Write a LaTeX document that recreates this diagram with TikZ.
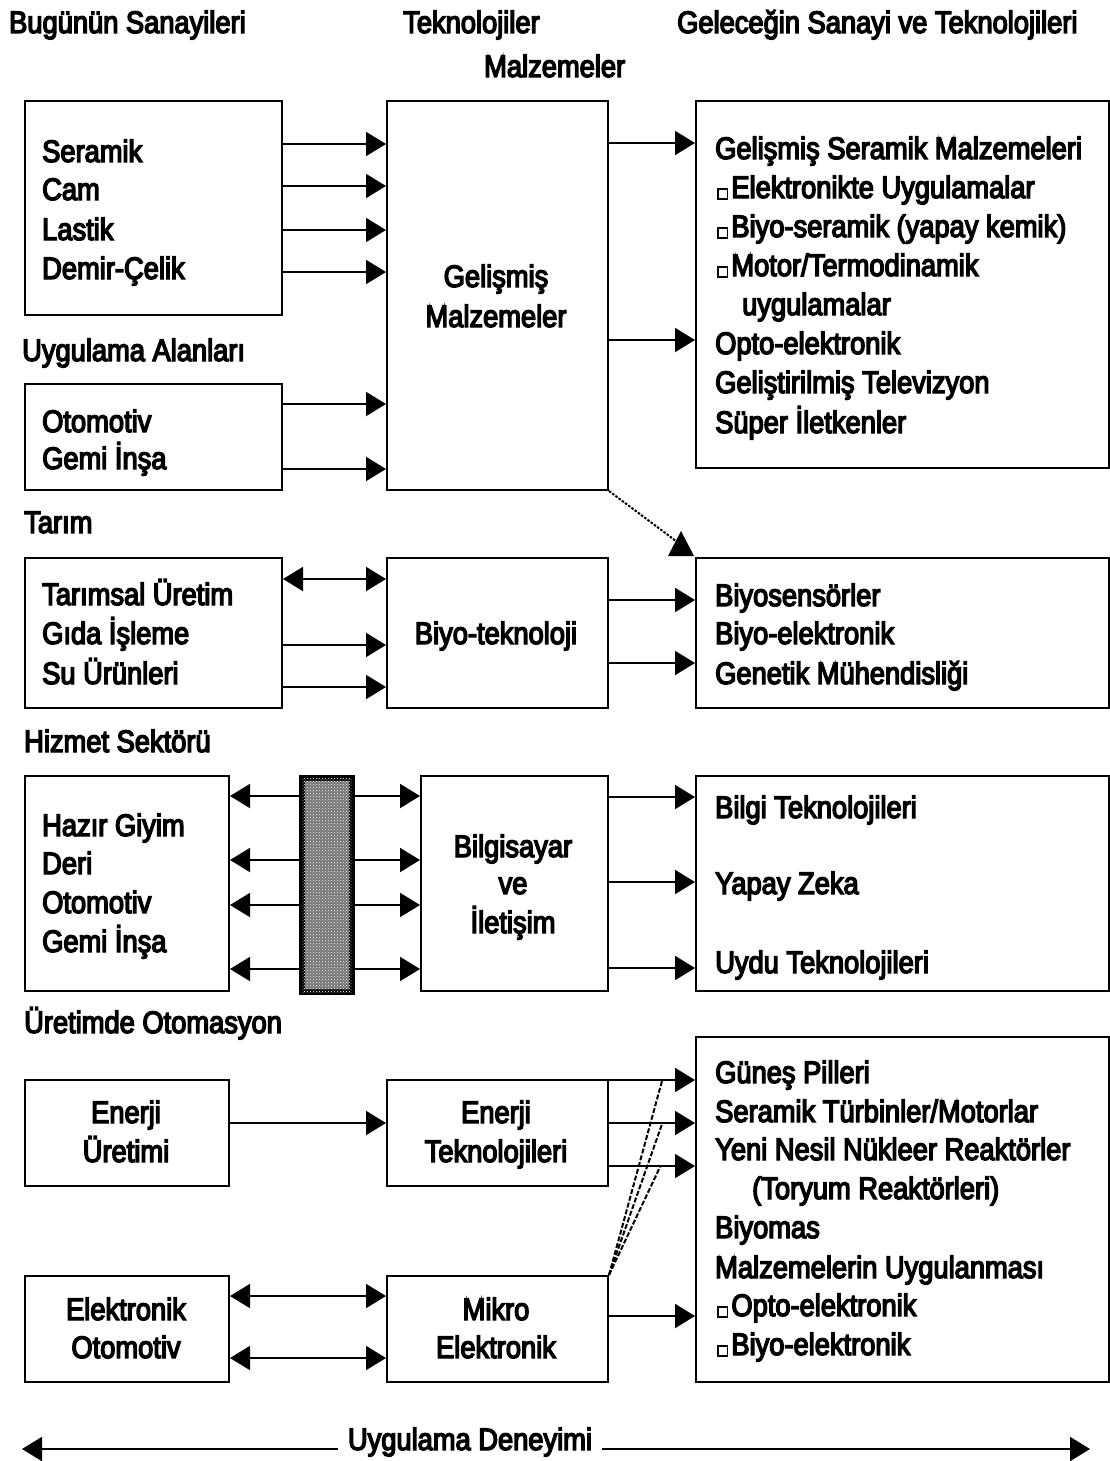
\documentclass[tikz,border=0pt]{standalone}
\usepackage{fontspec}
\setmainfont{Liberation Sans}[FakeStretch=0.88,FakeBold=4.5]
\usetikzlibrary{arrows.meta,patterns,calc}
\newcommand\dfont{\fontsize{31}{31}\selectfont}
\newcommand\bsq{{\setlength\fboxrule{1.6pt}\setlength\fboxsep{0pt}\fbox{\rule{0pt}{8pt}\rule{8pt}{0pt}}}\hspace{3pt}}
\tikzset{
  box/.style={draw, line width=2pt, inner sep=0pt, anchor=north west},
  txt/.style={anchor=base west, inner sep=0pt, font=\dfont},
  ctxt/.style={anchor=base, inner sep=0pt, font=\dfont},
  arr/.style={line width=2pt, -{Triangle[length=20pt,width=24pt]}},
  darr/.style={line width=2pt, {Triangle[length=20pt,width=24pt]}-{Triangle[length=20pt,width=24pt]}},
  dsh/.style={line width=2pt, dash pattern=on 5pt off 2pt},
  dot/.style={line width=2pt, dash pattern=on 2.5pt off 1.5pt},
}
\begin{document}
\begin{tikzpicture}[x=1pt,y=-1pt]
\useasboundingbox (0,0) rectangle (1110,1461);
\fill[white] (0,0) rectangle (1110,1461);

% headers
\node[txt] (h1) at (9,33) {Bugünün Sanayileri};
\node[txt] (h2) at (403,33) {Teknolojiler};
\node[txt] (h3) at (484,77) {Malzemeler};
\node[txt] (h4) at (677,33) {Geleceğin Sanayi ve Teknolojileri};

% boxes
\node[box, minimum width=257, minimum height=214] (sanayi) at (24,100) {};
\node[box, minimum width=221, minimum height=389] (gelismis) at (386,100) {};
\node[box, minimum width=413, minimum height=367] (gelecek) at (695,100) {};
\node[box, minimum width=257, minimum height=106] (uygulama) at (24,383) {};
\node[box, minimum width=257, minimum height=150] (tarim) at (24,557) {};
\node[box, minimum width=221, minimum height=150] (biyotek) at (386,557) {};
\node[box, minimum width=413, minimum height=150] (biyosens) at (695,557) {};
\node[box, minimum width=204, minimum height=215] (hizmet) at (24,775) {};
\node[box, minimum width=187, minimum height=215] (bilgisayar) at (420,775) {};
\node[box, minimum width=413, minimum height=215] (bilgi) at (695,775) {};
\node[box, minimum width=204, minimum height=106] (enerjiu) at (24,1079) {};
\node[box, minimum width=221, minimum height=106] (enerjit) at (386,1079) {};
\node[box, minimum width=413, minimum height=345] (gunes) at (695,1036) {};
\node[box, minimum width=204, minimum height=106] (elektronik) at (24,1275) {};
\node[box, minimum width=221, minimum height=106] (mikro) at (386,1275) {};

% section labels
\node[txt] (l1) at (22,361) {Uygulama Alanları};
\node[txt] (l2) at (24,533) {Tarım};
\node[txt] (l3) at (24,752) {Hizmet Sektörü};
\node[txt] (l4) at (24,1033) {Üretimde Otomasyon};

% texts in boxes
\node[txt] (t1) at (42,162) {Seramik};
\node[txt] (t2) at (42,200) {Cam};
\node[txt] (t3) at (42,240) {Lastik};
\node[txt] (t4) at (42,279) {Demir-Çelik};
\node[ctxt] (t5) at (496,287) {Gelişmiş};
\node[ctxt] (t6) at (496,327) {Malzemeler};
\node[txt] (g1) at (715,159) {Gelişmiş Seramik Malzemeleri};
\node[txt] (g2) at (717,198) {\bsq Elektronikte Uygulamalar};
\node[txt] (g3) at (717,237) {\bsq Biyo-seramik (yapay kemik)};
\node[txt] (g4) at (717,276) {\bsq Motor/Termodinamik};
\node[txt] (g5) at (742,315) {uygulamalar};
\node[txt] (g6) at (715,354) {Opto-elektronik};
\node[txt] (g7) at (715,393) {Geliştirilmiş Televizyon};
\node[txt] (g8) at (715,433) {Süper İletkenler};
\node[txt] (u1) at (42,432) {Otomotiv};
\node[txt] (u2) at (42,469) {Gemi İnşa};
\node[txt] (r1) at (42,605) {Tarımsal Üretim};
\node[txt] (r2) at (42,644) {Gıda İşleme};
\node[txt] (r3) at (42,684) {Su Ürünleri};
\node[ctxt] (b1) at (496,644) {Biyo-teknoloji};
\node[txt] (s1) at (715,606) {Biyosensörler};
\node[txt] (s2) at (715,644) {Biyo-elektronik};
\node[txt] (s3) at (715,684) {Genetik Mühendisliği};
\node[txt] (z1) at (42,836) {Hazır Giyim};
\node[txt] (z2) at (42,874) {Deri};
\node[txt] (z3) at (42,913) {Otomotiv};
\node[txt] (z4) at (42,952) {Gemi İnşa};
\node[ctxt] (c1) at (513,857) {Bilgisayar};
\node[ctxt] (c2) at (513,894) {ve};
\node[ctxt] (c3) at (513,933) {İletişim};
\node[txt] (k1) at (715,818) {Bilgi Teknolojileri};
\node[txt] (k2) at (715,894) {Yapay Zeka};
\node[txt] (k3) at (715,973) {Uydu Teknolojileri};
\node[ctxt] (e1) at (126,1123) {Enerji};
\node[ctxt] (e2) at (126,1162) {Üretimi};
\node[ctxt] (e3) at (496,1123) {Enerji};
\node[ctxt] (e4) at (496,1162) {Teknolojileri};
\node[txt] (n1) at (715,1083) {Güneş Pilleri};
\node[txt] (n2) at (715,1122) {Seramik Türbinler/Motorlar};
\node[txt] (n3) at (715,1160) {Yeni Nesil Nükleer Reaktörler};
\node[txt] (n4) at (752,1199) {(Toryum Reaktörleri)};
\node[txt] (n5) at (715,1238) {Biyomas};
\node[txt] (n6) at (715,1278) {Malzemelerin Uygulanması};
\node[txt] (n7) at (717,1316) {\bsq Opto-elektronik};
\node[txt] (n8) at (717,1355) {\bsq Biyo-elektronik};
\node[ctxt] (m1) at (126,1320) {Elektronik};
\node[ctxt] (m2) at (126,1358) {Otomotiv};
\node[ctxt] (m3) at (496,1320) {Mikro};
\node[ctxt] (m4) at (496,1358) {Elektronik};

% connectors
\foreach \yy in {144,186,230,272}
  \draw[arr] (sanayi.east |- 0,\yy) -- (gelismis.west |- 0,\yy);
\foreach \yy in {404,469}
  \draw[arr] (uygulama.east |- 0,\yy) -- (gelismis.west |- 0,\yy);
\foreach \yy in {143,340}
  \draw[arr] (gelismis.east |- 0,\yy) -- (gelecek.west |- 0,\yy);

\coordinate (tri) at (676,541);
\draw[dot] (gelismis.south east) -- (tri);
\fill (668,556) -- (681,531) -- (694,556) -- cycle;

\draw[darr] (tarim.east |- 0,579) -- (biyotek.west |- 0,579);
\foreach \yy in {645,687}
  \draw[arr] (tarim.east |- 0,\yy) -- (biyotek.west |- 0,\yy);
\foreach \yy in {600,663}
  \draw[arr] (biyotek.east |- 0,\yy) -- (biyosens.west |- 0,\yy);

\node[draw, line width=6pt, fill=black!55, minimum width=50, minimum height=214, anchor=north west, inner sep=0pt] (bar) at (299,775) {};
\fill[pattern=crosshatch dots, pattern color=white] ($(bar.north west)+(3,3)$) rectangle ($(bar.south east)+(-3,-3)$);
\foreach \yy in {796,860,905,969} {
  \draw[arr] (bar.west |- 0,\yy) -- (hizmet.east |- 0,\yy);
  \draw[arr] (bar.east |- 0,\yy) -- (bilgisayar.west |- 0,\yy);
}
\foreach \yy in {797,882,968}
  \draw[arr] (bilgisayar.east |- 0,\yy) -- (bilgi.west |- 0,\yy);

\draw[arr] (enerjiu.east |- 0,1123) -- (enerjit.west |- 0,1123);
\foreach \yy in {1080,1123,1166}
  \draw[arr] (enerjit.east |- 0,\yy) -- (gunes.west |- 0,\yy);

\coordinate (d1) at (662,1081);
\coordinate (d2) at (662,1124);
\coordinate (d3) at (660,1167);
\foreach \d in {d1,d2,d3}
  \draw[dsh] (mikro.north east) -- (\d);

\foreach \yy in {1296,1358}
  \draw[darr] (elektronik.east |- 0,\yy) -- (mikro.west |- 0,\yy);
\draw[arr] (mikro.east |- 0,1316) -- (gunes.west |- 0,1316);

% bottom
\node[ctxt, inner xsep=10pt] (ud) at (470,1450) {Uygulama Deneyimi};
\coordinate (ul) at (22,1449);
\coordinate (ur) at (1090,1449);
\draw[arr] (ud.west |- ul) -- (ul);
\draw[arr] (ud.east |- ur) -- (ur);
\end{tikzpicture}
\end{document}
